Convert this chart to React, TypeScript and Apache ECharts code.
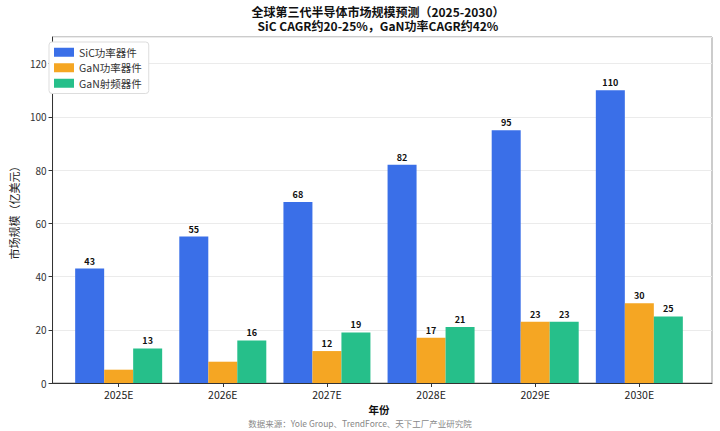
import React, { useEffect, useRef } from "react";
import * as echarts from "echarts";

const categories = ["2025E", "2026E", "2027E", "2028E", "2029E", "2030E"];
const sicPower = [43, 55, 68, 82, 95, 110];
const ganPower = [5, 8, 12, 17, 23, 30];
const ganRf = [13, 16, 19, 21, 23, 25];
const seriesNames = ["SiC功率器件", "GaN功率器件", "GaN射频器件"];
const colors = ["#3A6FE8", "#F5A623", "#26BF8A"];
const FONT = "'Noto Sans CJK SC', 'Noto Sans', sans-serif";

export default function App() {
  const ref = useRef<HTMLDivElement>(null);
  useEffect(() => {
    if (!ref.current) return;
    const chart = echarts.init(ref.current, undefined, { renderer: "svg" });
    const label = {
      show: true,
      position: "top",
      distance: 3,
      fontSize: 9,
      fontWeight: "bold",
      color: "#111",
      fontFamily: FONT,
      formatter: (p: any) => (p.value >= 10 ? String(p.value) : ""),
    };
    const datas = [sicPower, ganPower, ganRf];
    const titleStyle = { fontSize: 12, fontWeight: "bold", color: "#111", fontFamily: FONT, lineHeight: 12 };
    chart.setOption({
      animation: false,
      textStyle: { fontFamily: FONT },
      title: [
        { text: "全球第三代半导体市场规模预测（2025-2030）", left: 378, top: 5.5, textAlign: "center", padding: 0, textStyle: titleStyle },
        { text: "SiC CAGR约20-25%，GaN功率CAGR约42%", left: 378, top: 19.5, textAlign: "center", padding: 0, textStyle: titleStyle },
      ],
      legend: {
        orient: "vertical",
        left: 49,
        top: 42,
        padding: [5, 7, 5, 5],
        itemWidth: 20,
        itemHeight: 9,
        itemGap: 5,
        borderColor: "#ddd",
        borderWidth: 1,
        borderRadius: 3,
        backgroundColor: "#fff",
        textStyle: { fontSize: 10.5, color: "#333", fontFamily: FONT },
        icon: "rect",
        data: seriesNames,
      },
      grid: [
        { left: 45, right: 8, top: 37, bottom: 48, show: true, borderColor: "#999", borderWidth: 1, backgroundColor: "transparent" },
        { left: 66.6, right: 28.6, top: 37, bottom: 48 },
      ],
      xAxis: [
        {
          type: "value",
          gridIndex: 0,
          min: 0,
          max: 1,
          axisLabel: { show: false },
          axisTick: { show: false },
          splitLine: { show: false },
          axisLine: { show: true, lineStyle: { color: "#333", width: 1 } },
        },
        {
          type: "category",
          gridIndex: 1,
          data: categories,
          axisLine: { show: false },
          axisTick: { show: true, alignWithLabel: true, length: 4, lineStyle: { color: "#333" } },
          axisLabel: { fontSize: 10.5, color: "#222", margin: 6 },
          name: "年份",
          nameLocation: "middle",
          nameGap: 16,
          nameTextStyle: { fontSize: 10.5, fontWeight: "bold", color: "#111", lineHeight: 11 },
        },
      ],
      yAxis: [
        {
          type: "value",
          gridIndex: 0,
          min: 0,
          max: 130,
          interval: 20,
          axisLine: { show: true, lineStyle: { color: "#333" } },
          axisTick: { show: true, length: 4, lineStyle: { color: "#333" } },
          axisLabel: { fontSize: 10, color: "#333", margin: 6, showMaxLabel: false },
          splitLine: { show: true, lineStyle: { color: "#ebebeb", width: 1 } },
          name: "市场规模（亿美元）",
          nameLocation: "middle",
          nameGap: 29,
          nameTextStyle: { fontSize: 11, color: "#222" },
        },
        {
          type: "value",
          gridIndex: 1,
          min: 0,
          max: 130,
          show: false,
          splitLine: { show: false },
        },
      ],
      series: seriesNames.map((name, i) => ({
        name,
        type: "bar",
        xAxisIndex: 1,
        yAxisIndex: 1,
        data: datas[i],
        barWidth: 29,
        barGap: "0%",
        itemStyle: { color: colors[i] },
        label,
      })),
      graphic: [
        {
          type: "text",
          x: 360,
          y: 423,
          style: {
            text: "数据来源：Yole Group、TrendForce、天下工厂产业研究院",
            fontSize: 8.5,
            fill: "#888",
            fontFamily: FONT,
            align: "center",
            verticalAlign: "middle",
          },
        },
      ],
    });
    return () => chart.dispose();
  }, []);
  return <div ref={ref} style={{ width: 720, height: 431, position: "absolute", left: 0, top: 0 }} />;
}
